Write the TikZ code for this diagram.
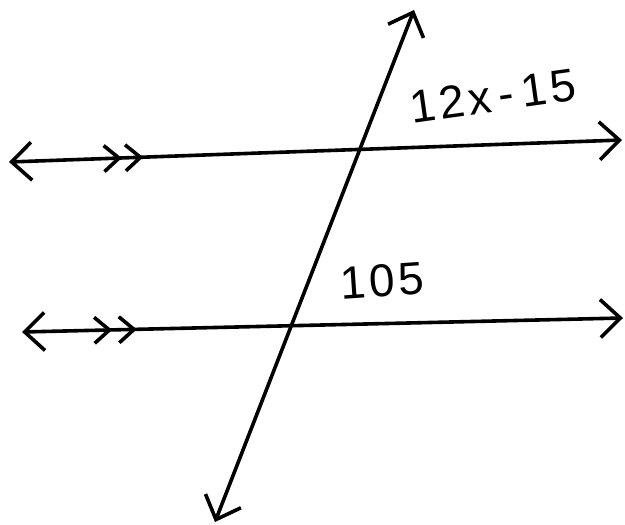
\documentclass[tikz,border=0pt]{standalone}
\usepackage{fontspec}
\setmainfont{Liberation Sans}
\usetikzlibrary{arrows.meta,decorations.markings}
\begin{document}
\begin{tikzpicture}[x=1pt,y=-1pt,
  ln/.style={line width=3.6pt,line cap=round,line join=round,
    {Straight Barb[length=20pt,width=38pt,line width=3.6pt]}-{Straight Barb[length=20pt,width=38pt,line width=3.6pt]}},
  chev/.style={decoration={markings,
    mark=at position #1 with {\arrow{Straight Barb[length=15pt,width=26pt,line width=3.6pt]}}}},
  lbl/.style={font=\fontsize{46}{50}\selectfont\addfontfeatures{LetterSpace=8},inner sep=0pt}]
\useasboundingbox (0,0) rectangle (625,525);
\coordinate (L1) at (9,162);
\coordinate (R1) at (622,140);
\coordinate (L2) at (22,332);
\coordinate (R2) at (623,318);
\coordinate (T) at (414,10);
\coordinate (B) at (215,522);
\draw[ln,postaction={decorate,chev=0.184},postaction={decorate,chev=0.219}] (L1) -- (R1);
\draw[ln,postaction={decorate,chev=0.150},postaction={decorate,chev=0.191}] (L2) -- (R2);
\draw[ln] (B) -- (T);
\node[lbl,rotate=8] (a1) at (493,96) {12x\,-\,15};
\node[lbl,rotate=4] (a2) at (382,281) {105};
\end{tikzpicture}
\end{document}
